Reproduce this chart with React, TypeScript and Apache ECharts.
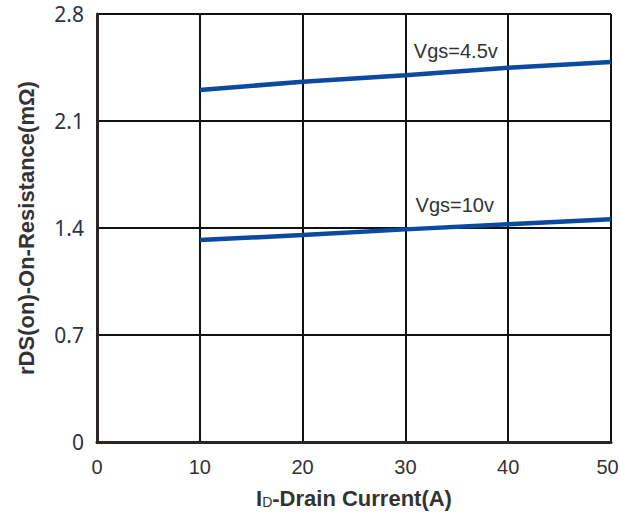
import React, { useEffect, useRef } from "react";
import * as echarts from "echarts";

const currentA: number[] = [10, 20, 30, 40, 50];
const vgs45: number[] = [2.303, 2.357, 2.4, 2.449, 2.486];
const vgs10: number[] = [1.321, 1.354, 1.391, 1.424, 1.457];
const seriesNames: string[] = ["Vgs=4.5v", "Vgs=10v"];
const labelPos: [number, number][] = [[34.9, 2.558], [34.8, 1.55]];

export default function App() {
  const ref = useRef<HTMLDivElement>(null);
  useEffect(() => {
    if (!ref.current) return;
    const chart = echarts.init(ref.current, null, { renderer: "svg" });
    const lineColor = "#0b4a9e";
    const mk = (vals: number[], i: number) => ({
      type: "line",
      name: seriesNames[i],
      data: currentA.map((x, k) => [x, vals[k]]),
      showSymbol: false,
      lineStyle: { width: 4.5, color: lineColor },
      itemStyle: { color: lineColor },
      z: 5,
      markPoint: {
        symbol: "circle",
        symbolSize: 0,
        data: [{ coord: labelPos[i] }],
        label: {
          show: true,
          position: "inside",
          formatter: seriesNames[i],
          fontFamily: "Liberation Sans, Arial, sans-serif",
          fontSize: 20,
          color: "#333",
          backgroundColor: "#fff",
          padding: [1, 2],
        },
      },
    });
    const xFont = "Liberation Sans, Arial, sans-serif";
    chart.setOption({
      animation: false,
      backgroundColor: "#fff",
      grid: { left: 97, right: 9, top: 14, bottom: 70, outerBoundsMode: "none", containLabel: false },
      xAxis: {
        type: "value",
        min: 0,
        max: 50,
        interval: 10,
        axisLine: { show: true, onZero: false, lineStyle: { color: "#2b2523", width: 3 } },
        axisTick: { show: false },
        splitLine: { show: true, lineStyle: { color: "#111", width: 2 } },
        axisLabel: {
          margin: 15,
          fontFamily: xFont,
          fontSize: 20,
          color: "#333",
          formatter: (v: number) => (v === 50 ? "{e|50}" : String(v)),
          rich: {
            e: { fontFamily: xFont, fontSize: 20, color: "#333", padding: [0, 7, 0, 0] },
          },
        },
        name: "{a|I}{b|D}{a|-Drain Current(A)}",
        nameLocation: "middle",
        nameGap: 45,
        nameTextStyle: {
          rich: {
            a: { fontFamily: xFont, fontWeight: "bold", fontSize: 22, color: "#333", verticalAlign: "bottom" },
            b: { fontFamily: xFont, fontWeight: "normal", fontSize: 14, color: "#333", verticalAlign: "bottom" },
          },
        },
      },
      yAxis: {
        type: "value",
        min: 0,
        max: 2.8,
        interval: 0.7,
        axisLine: { show: true, lineStyle: { color: "#2b2523", width: 3 } },
        axisTick: { show: false },
        splitLine: { show: true, lineStyle: { color: "#111", width: 2 } },
        axisLabel: {
          margin: 13,
          fontFamily: "Noto Sans, sans-serif",
          fontSize: 21,
          color: "#2a3346",
          formatter: (v: number) => (v === 0 ? "0" : v.toFixed(1)),
        },
        name: "rDS(on)-On-Resistance(mΩ)",
        nameLocation: "middle",
        nameGap: 60,
        nameTextStyle: {
          fontFamily: xFont,
          fontWeight: "bold",
          fontSize: 22,
          color: "#333",
        },
      },
      series: [mk(vgs45, 0), mk(vgs10, 1)],
    });
    return () => chart.dispose();
  }, []);
  return (
    <div
      ref={ref}
      style={{ position: "fixed", left: 0, top: 0, width: 620, height: 512 }}
    />
  );
}
